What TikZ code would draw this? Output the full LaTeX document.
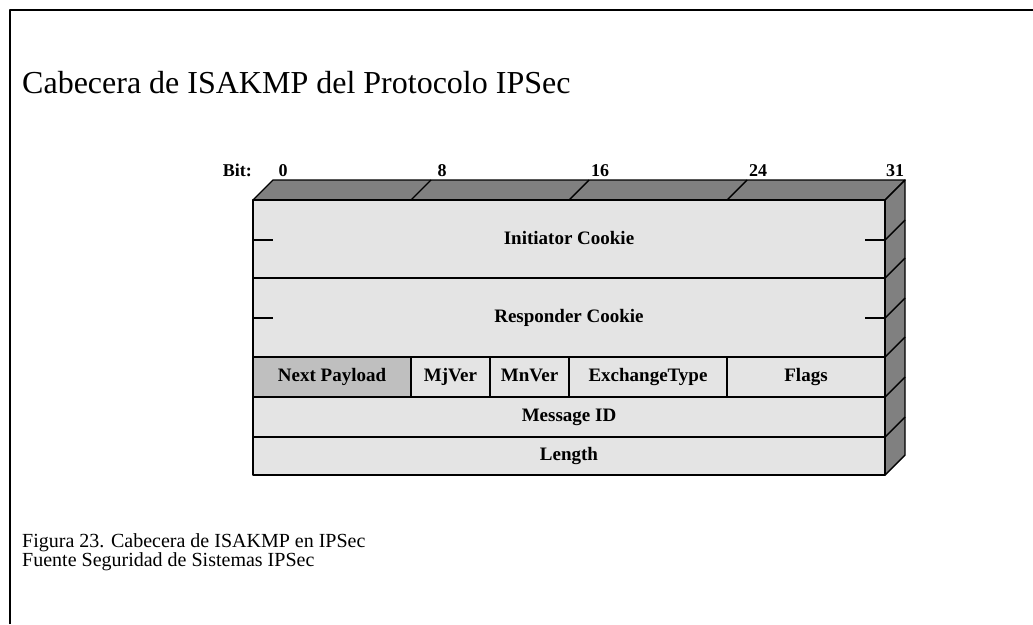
\documentclass[tikz,border=0pt]{standalone}
\usepackage{fontspec}
\setmainfont{Liberation Serif}
\definecolor{facegray}{HTML}{E4E4E4}
\definecolor{topgray}{HTML}{808080}
\definecolor{cellgray}{HTML}{BFBFBF}
\begin{document}
\begin{tikzpicture}[x=1pt,y=-1pt,line join=round,
  edge/.style={draw=black,line width=1.4pt},
  lbl/.style={font=\fontsize{19}{22}\selectfont\bfseries,inner sep=0pt,
    text height=12.5pt,text depth=4pt},
  bitlbl/.style={font=\fontsize{18}{20}\selectfont\bfseries,inner sep=0pt,anchor=base},
  title/.style={font=\fontsize{32}{36}\selectfont,inner sep=0pt,anchor=base west},
  caption/.style={font=\fontsize{20}{22}\selectfont,inner sep=0pt,anchor=base west}]
\useasboundingbox (0,0) rectangle (1033,624);
% open page frame
\draw[line width=2.6pt] (10,624) -- (10,10) -- (1033,10);

\node[title] (ttl) at (22,93) {Cabecera de ISAKMP del Protocolo IPSec};

% 3D header block: top face, side face, front face
\filldraw[edge,fill=topgray] (253,200) -- (273,180) -- (905,180) -- (885,200) -- cycle;
\filldraw[edge,fill=topgray] (885,200) -- (905,180) -- (905,455) -- (885,475) -- cycle;
\filldraw[edge,fill=facegray] (253,200) rectangle (885,475);
\filldraw[edge,fill=cellgray] (253,357) rectangle (411,397);

% row separators
\foreach \y in {278,357,397,437} \draw[edge] (253,\y) -- (885,\y);
% field separators in the third row
\foreach \x in {411,490,569,727} \draw[edge] (\x,357) -- (\x,397);
% byte marks on the top face
\foreach \x in {411,569,727} \draw[edge] (\x,200) -- ++(20,-20);
% word marks on the side face
\foreach \y in {240,278,318,357,397,437} \draw[edge] (885,\y) -- ++(20,-20);
% half-word ticks of the cookies
\foreach \y in {240,318} {
  \draw[edge] (253,\y) -- (273,\y);
  \draw[edge] (865,\y) -- (885,\y);
}

% bit positions
\node[bitlbl,anchor=base east] (bit) at (252,176) {Bit:};
\node[bitlbl] (b0)  at (283,176) {0};
\node[bitlbl] (b8)  at (442,176) {8};
\node[bitlbl] (b16) at (600,176) {16};
\node[bitlbl] (b24) at (758,176) {24};
\node[bitlbl] (b31) at (895,176) {31};

% field names
\node[lbl] (ic) at (569,240) {Initiator Cookie};
\node[lbl] (rc) at (569,318) {Responder Cookie};
\node[lbl] (np) at (332,377) {Next Payload};
\node[lbl] (mj) at (450.5,377) {MjVer};
\node[lbl] (mn) at (529.5,377) {MnVer};
\node[lbl] (et) at (648,377) {ExchangeType};
\node[lbl] (fl) at (806,377) {Flags};
\node[lbl] (mid) at (569,417) {Message ID};
\node[lbl] (len) at (569,456) {Length};

\node[caption] (cap1) at (22,547) {Figura 23. Cabecera de ISAKMP en IPSec};
\node[caption] (cap2) at (22,566) {Fuente Seguridad de Sistemas IPSec};
\end{tikzpicture}
\end{document}
